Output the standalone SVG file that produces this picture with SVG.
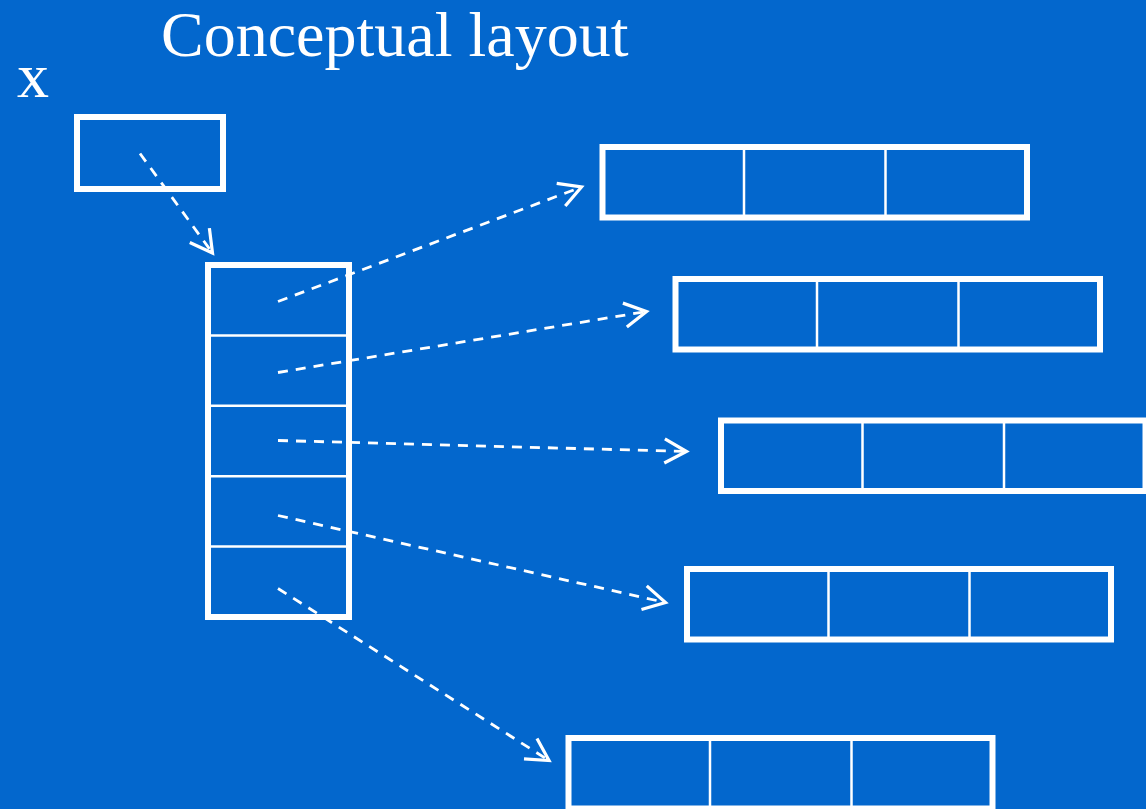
<svg xmlns="http://www.w3.org/2000/svg" width="1146" height="809" viewBox="0 0 1146 809">
<defs>
<style>
.bg{fill:#0367CD}
.t{font-family:"Liberation Serif","Times New Roman",serif;font-size:64px;fill:#fff}
.box{fill:none;stroke:#fff;stroke-width:6}
.div{stroke:#fff;stroke-width:2.5}
.link{fill:none;stroke:#fff;stroke-width:2.8;stroke-dasharray:10 8}
.head{fill:none;stroke:#fff;stroke-width:2.8;stroke-dasharray:none}
</style>
<marker id="arr" markerUnits="userSpaceOnUse" markerWidth="30" markerHeight="30" refX="0" refY="0" viewBox="-22 -13 26 26" orient="auto" overflow="visible">
<path class="head" d="M-19,-10.5 L0,0 L-19,10.5"/>
</marker>
</defs>
<rect class="bg" x="0" y="0" width="1146" height="809"/>
<text class="t" x="161" y="56">Conceptual layout</text>
<text class="t" x="17" y="97">x</text>
<g id="x-box">
<rect class="box" x="77" y="117" width="146" height="72"/>
</g>
<g id="array">
<rect class="box" x="208" y="265" width="141" height="352"/>
<line class="div" x1="208" y1="335.4" x2="349" y2="335.4"/>
<line class="div" x1="208" y1="405.8" x2="349" y2="405.8"/>
<line class="div" x1="208" y1="476.2" x2="349" y2="476.2"/>
<line class="div" x1="208" y1="546.6" x2="349" y2="546.6"/>
</g>
<g id="row1">
<rect class="box" x="602.5" y="147" width="424.5" height="70.5"/>
<line class="div" x1="744" y1="147" x2="744" y2="217.5"/>
<line class="div" x1="885.5" y1="147" x2="885.5" y2="217.5"/>
</g>
<g id="row2">
<rect class="box" x="675.5" y="279" width="424.5" height="70.5"/>
<line class="div" x1="817" y1="279" x2="817" y2="349.5"/>
<line class="div" x1="958.5" y1="279" x2="958.5" y2="349.5"/>
</g>
<g id="row3">
<rect class="box" x="721" y="420.5" width="424.5" height="70.5"/>
<line class="div" x1="862.5" y1="420.5" x2="862.5" y2="491"/>
<line class="div" x1="1004" y1="420.5" x2="1004" y2="491"/>
</g>
<g id="row4">
<rect class="box" x="687" y="569" width="424" height="70.5"/>
<line class="div" x1="828.5" y1="569" x2="828.5" y2="639.5"/>
<line class="div" x1="969.5" y1="569" x2="969.5" y2="639.5"/>
</g>
<g id="row5">
<rect class="box" x="568.5" y="738" width="424" height="70.5"/>
<line class="div" x1="710" y1="738" x2="710" y2="808.5"/>
<line class="div" x1="851.5" y1="738" x2="851.5" y2="808.5"/>
</g>
<g id="connectors">
<line class="link" x1="140" y1="153.5" x2="212.5" y2="253" marker-end="url(#arr)"/>
<line class="link" x1="278" y1="301.5" x2="581.5" y2="187" marker-end="url(#arr)"/>
<line class="link" x1="278" y1="372.5" x2="646.5" y2="311.5" marker-end="url(#arr)"/>
<line class="link" x1="278" y1="440.5" x2="686.5" y2="451.5" marker-end="url(#arr)"/>
<line class="link" x1="278" y1="515.5" x2="665.5" y2="602.5" marker-end="url(#arr)"/>
<line class="link" x1="278" y1="588.5" x2="549" y2="760.5" marker-end="url(#arr)"/>
</g>
</svg>
